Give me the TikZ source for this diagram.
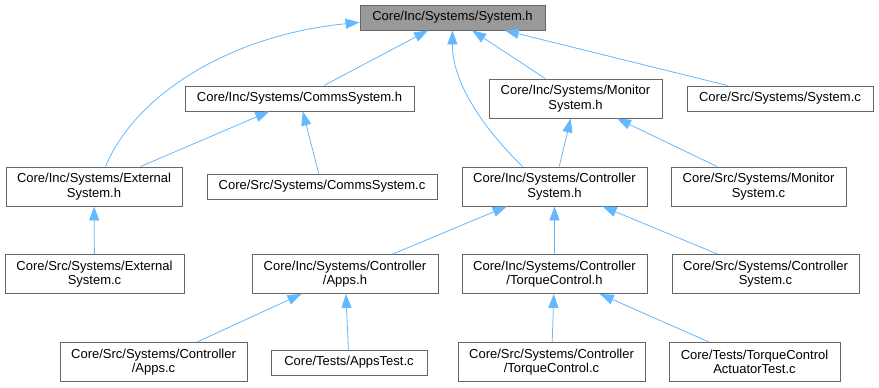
\documentclass[tikz,border=0pt]{standalone}
\usepackage{fontspec}
\setmainfont{Liberation Sans}
\usetikzlibrary{arrows.meta}
\definecolor{link-blue}{HTML}{63B8FF}
\definecolor{frame-gray}{HTML}{666666}
\definecolor{root-gray}{HTML}{999999}

\begin{document}
\begin{tikzpicture}[x=1pt, y=1pt, font=\fontsize{13}{14.5}\selectfont,
  incfile/.style={draw=frame-gray, line width=0.9pt, inner sep=0pt, align=center},
  uses/.style={draw=link-blue, line width=0.8pt, {Triangle[length=14pt, width=10pt]}-}]
\useasboundingbox (0,0) rectangle (879,-388);
% the header every other file includes
\node[incfile, fill=root-gray, minimum width=185, minimum height=25]
  (sysh)
  at (452.5,-17.5)
  {Core/Inc/Systems/System.h};
% name / centre x / centre y / width / height / file
\foreach \name/\x/\y/\w/\h/\fname in {
    commsh/299.5/98.5/229/25/{Core/Inc/Systems/CommsSystem.h},
    monh/575.5/98.5/173/39/{Core/Inc/Systems/Monitor\\System.h},
    sysc/780/98.5/186/25/{Core/Src/Systems/System.c},
    exth/94/186.5/176/39/{Core/Inc/Systems/External\\System.h},
    commsc/322/186.5/230/25/{Core/Src/Systems/CommsSystem.c},
    ctrlh/554.5/186.5/185/39/{Core/Inc/Systems/Controller\\System.h},
    monc/758.5/186.5/175/39/{Core/Src/Systems/Monitor\\System.c},
    extc/94.5/274/179/39/{Core/Src/Systems/External\\System.c},
    appsh/345/274/186/39/{Core/Inc/Systems/Controller\\/Apps.h},
    torqueh/554.5/274/185/39/{Core/Inc/Systems/Controller\\/TorqueControl.h},
    ctrlc/765.5/274/187/39/{Core/Src/Systems/Controller\\System.c},
    appsc/153.5/362/187/39/{Core/Src/Systems/Controller\\/Apps.c},
    appstest/349/362.5/156/25/{Core/Tests/AppsTest.c},
    torquec/551.5/362/187/39/{Core/Src/Systems/Controller\\/TorqueControl.c},
    actest/754.5/362/171/39/{Core/Tests/TorqueControl\\ActuatorTest.c}} {
  \node[incfile, minimum width=\w, minimum height=\h]
    (\name)
    at (\x,-\y)
    {\fname};
}
% include edges, tip at the included header
\foreach \to/\from in {
    sysh/commsh, sysh/monh, sysh/sysc,
    commsh/exth, commsh/commsc, monh/ctrlh, monh/monc,
    exth/extc, ctrlh/appsh, ctrlh/torqueh, ctrlh/ctrlc,
    appsh/appsc, appsh/appstest, torqueh/torquec, torqueh/actest} {
  \draw[uses] (\to) -- (\from);
}
\draw[uses] (sysh.183) .. controls (230,-35) and (135,-95) .. (exth.60);
\draw[uses] (sysh.south) .. controls (452,-80) and (480,-125) .. (ctrlh.148);
\end{tikzpicture}
\end{document}
